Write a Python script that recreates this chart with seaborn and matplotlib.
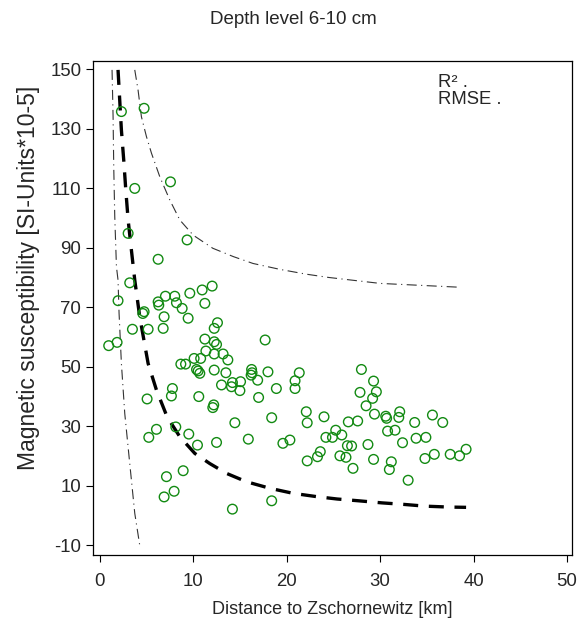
import matplotlib
matplotlib.use("Agg")
import matplotlib.pyplot as plt
import seaborn as sns
import pandas as pd

# distance [km] and magnetic susceptibility
dist = [2.32, 4.75, 7.57, 3.75, 3.04, 9.35, 6.25, 3.21,
        1.96, 6.25, 6.32, 7.03, 8.03, 8.21, 8.82, 9.64, 10.96, 12.03,
        11.25, 9.46, 6.89, 4.75, 4.61, 3.5, 5.18, 6.79, 0.96, 1.86,
        12.6, 12.25, 11.25, 12.25, 12.5, 11.36, 12.25, 13.2, 10.1, 10.8,
        8.68, 9.18, 10.36, 10.53, 10.71, 12.25, 13.03, 7.78, 7.67, 5.07,
        10.6, 12.2, 12.1, 6.07, 5.25, 8.14, 9.53, 10.46, 12.5, 8.93,
        7.14, 7.96, 6.89,
        13.71, 13.5, 14.2, 14.1, 15.07, 15.0, 16.25, 16.3, 16.2, 16.9,
        18.0, 17.7, 18.9, 17.0, 21.35, 20.9, 20.9, 14.46, 18.4, 15.9,
        19.6, 20.35, 22.1, 22.2, 24.0, 24.2, 24.9, 25.25, 25.9, 26.6,
        26.5, 23.6, 23.3, 22.2, 25.7, 26.35, 18.4, 14.2,
        28.0, 29.3, 27.85, 29.6, 29.2, 28.5, 29.4, 30.6, 30.7, 32.1,
        32.0, 27.6, 33.7, 35.6, 36.7, 30.8, 31.6, 26.95, 28.7, 32.4,
        33.85, 34.9, 29.3, 31.2, 30.99, 27.1, 33.0, 34.8, 35.8, 37.5,
        38.5, 39.2]
suscept = [135.7, 136.8, 112.1, 109.9, 94.8, 92.6, 86.1, 78.2,
           72.2, 71.8, 70.7, 73.7, 73.7, 71.5, 69.6, 74.7, 75.8, 77.1,
           71.3, 66.3, 66.8, 68.5, 67.9, 62.6, 62.6, 62.9, 57.1, 58.2,
           64.8, 62.9, 59.3, 58.4, 57.5, 55.3, 54.3, 54.3, 52.8, 52.8,
           50.9, 50.9, 49.1, 48.6, 47.8, 48.9, 43.9, 42.7, 40.2, 39.2,
           40.0, 37.2, 36.3, 29.0, 26.3, 29.8, 27.4, 23.7, 24.6, 15.1,
           13.1, 8.2, 6.3,
           52.3, 48.0, 44.7, 43.3, 45.0, 42.0, 49.1, 48.0, 47.2, 45.5,
           48.3, 59.0, 42.7, 39.7, 48.0, 45.3, 42.7, 31.2, 32.9, 25.7,
           24.3, 25.4, 34.9, 31.2, 33.2, 26.3, 26.3, 28.7, 27.1, 31.5,
           23.5, 21.5, 19.8, 18.4, 20.1, 19.6, 5.0, 2.2,
           49.1, 45.2, 41.4, 41.6, 39.4, 36.9, 34.1, 33.4, 32.7, 34.9,
           33.0, 31.8, 31.3, 33.8, 31.3, 28.4, 28.7, 23.4, 23.9, 24.5,
           26.0, 26.3, 18.9, 18.1, 15.5, 15.9, 11.9, 19.2, 20.6, 20.6,
           20.1, 22.3]

# fitted curve (thick dashed)
fit_x = [1.96, 2.14, 2.32, 2.57, 2.79, 3.04, 3.39, 3.75, 4.28, 5.18, 6.07,
         7.21, 8.57, 10.18, 11.78, 13.57, 15.7, 18.2, 20.7, 23.2, 25.4,
         27.7, 30.2, 32.5, 34.8, 37.3, 39.2]
fit_y = [149.7, 139.6, 129.5, 119.4, 109.4, 99.3, 89.2, 79.1, 66.8, 51.1,
         42.2, 33.2, 26.5, 20.9, 17.5, 14.2, 11.4, 9.2, 7.5, 6.4, 5.6,
         5.0, 4.3, 3.8, 3.2, 2.9, 2.8]

# upper prediction band (thin dash-dot)
up_x = [3.75, 4.1, 4.46, 5.0, 5.54, 6.43, 7.5, 8.57, 10.0, 12.1, 14.3,
        16.4, 19.3, 22.1, 24.5, 30.0, 38.6]
up_y = [149.7, 143.0, 134.0, 127.3, 121.7, 113.8, 106.0, 99.3, 94.2, 89.8,
        87.0, 84.7, 82.7, 81.1, 80.0, 78.0, 76.7]

# lower prediction band (thin dash-dot)
lo_x = [1.32, 1.43, 1.5, 1.61, 1.79, 1.96, 2.07, 2.32, 2.68, 3.21, 3.75, 4.28]
lo_y = [149.7, 134.0, 117.2, 100.4, 83.6, 79.1, 68.0, 51.1, 34.3, 17.6,
        0.8, -9.9]

x_ticks = [0, 10, 20, 30, 40, 50]
y_ticks = [-10, 10, 30, 50, 70, 90, 110, 130, 150]

sns.set_style("ticks")
plt.rcParams["font.family"] = ["Liberation Sans", "DejaVu Sans"]
plt.rcParams["axes.unicode_minus"] = False

fig = plt.figure(figsize=(5.86, 6.35), dpi=100)
ax = fig.add_axes([0.159, 0.126, 0.8166, 0.778])

pts = pd.DataFrame({"dist": dist, "sus": suscept})
sns.scatterplot(data=pts, x="dist", y="sus", ax=ax, marker="o", s=48,
                color="none", edgecolor="#128a12", linewidth=1.0, zorder=3)

sns.lineplot(x=fit_x, y=fit_y, ax=ax, sort=False, estimator=None,
             color="black", linewidth=2.4, linestyle=(0, (4.5, 3.2)))
for bx, by in [(up_x, up_y), (lo_x, lo_y)]:
    sns.lineplot(x=bx, y=by, ax=ax, sort=False, estimator=None,
                 color="#333333", linewidth=0.8,
                 linestyle=(0, (9, 4, 1, 4)))

ax.set_xlim(-0.7, 50.5)
ax.set_ylim(-13.2, 152.7)
ax.set_xticks(x_ticks)
ax.set_yticks(y_ticks)
ax.tick_params(labelsize=13.4, length=5, width=0.8, color="black")
ax.tick_params(axis="x", pad=8)
for sp in ax.spines.values():
    sp.set_color("black")
    sp.set_linewidth(0.9)

ax.set_xlabel("Distance to Zschornewitz [km]", fontsize=13, labelpad=8)
ax.set_ylabel("Magnetic susceptibility [SI-Units*10-5]", fontsize=16.5)
ax.yaxis.set_label_coords(-0.112, 0.56)

ax.text(36.2, 145.4, "R² .", fontsize=13.3, va="center")
ax.text(36.2, 139.8, "RMSE .", fontsize=13.3, va="center")

fig.text(0.5, 1 - 20 / 635, "Depth level 6-10 cm", ha="center",
         va="center", fontsize=13.5)

fig.savefig("out.png", dpi=100)
